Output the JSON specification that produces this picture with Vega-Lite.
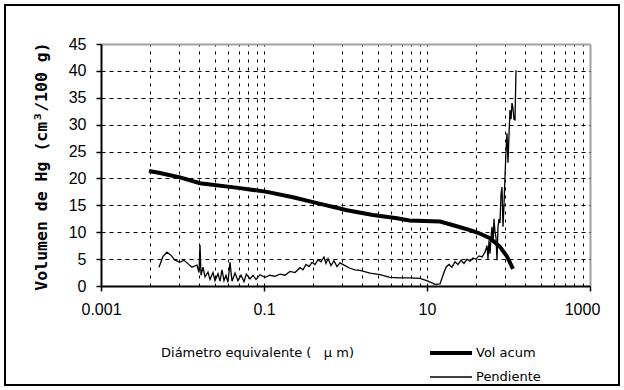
{
  "$schema": "https://vega.github.io/schema/vega-lite/v6.json",
  "width": 614,
  "height": 380,
  "autosize": {"type": "none"},
  "padding": {"left": 5, "top": 5, "right": 5, "bottom": 5},
  "background": "white",
  "config": {
    "view": {"stroke": "black", "strokeWidth": 2},
    "axis": {"labelColor": "black", "titleColor": "black", "tickColor": "black", "domainColor": "black"}
  },
  "data": {
    "values": [
      {"serie": "Vol acum", "d": 0.003881, "v": 21.4},
      {"serie": "Vol acum", "d": 0.005296, "v": 21.0},
      {"serie": "Vol acum", "d": 0.007025, "v": 20.6},
      {"serie": "Vol acum", "d": 0.009317, "v": 20.2},
      {"serie": "Vol acum", "d": 0.0164, "v": 19.1},
      {"serie": "Vol acum", "d": 0.05076, "v": 18.2},
      {"serie": "Vol acum", "d": 0.1088, "v": 17.5},
      {"serie": "Vol acum", "d": 0.2269, "v": 16.5},
      {"serie": "Vol acum", "d": 0.3992, "v": 15.6},
      {"serie": "Vol acum", "d": 1.043, "v": 14.1},
      {"serie": "Vol acum", "d": 2.174, "v": 13.2},
      {"serie": "Vol acum", "d": 4.284, "v": 12.6},
      {"serie": "Vol acum", "d": 6.067, "v": 12.2},
      {"serie": "Vol acum", "d": 14.44, "v": 12.0},
      {"serie": "Vol acum", "d": 22.06, "v": 11.2},
      {"serie": "Vol acum", "d": 33.7, "v": 10.4},
      {"serie": "Vol acum", "d": 42.25, "v": 9.9},
      {"serie": "Vol acum", "d": 59.29, "v": 8.9},
      {"serie": "Vol acum", "d": 78.65, "v": 7.3},
      {"serie": "Vol acum", "d": 95.82, "v": 5.5},
      {"serie": "Vol acum", "d": 113.6, "v": 3.2},
      {"serie": "Pendiente", "d": 0.005149, "v": 3.5},
      {"serie": "Pendiente", "d": 0.005764, "v": 5.5},
      {"serie": "Pendiente", "d": 0.006454, "v": 6.3},
      {"serie": "Pendiente", "d": 0.007226, "v": 5.7},
      {"serie": "Pendiente", "d": 0.008091, "v": 4.8},
      {"serie": "Pendiente", "d": 0.009317, "v": 4.4},
      {"serie": "Pendiente", "d": 0.010433, "v": 4.8},
      {"serie": "Pendiente", "d": 0.011357, "v": 4.3},
      {"serie": "Pendiente", "d": 0.01308, "v": 3.5},
      {"serie": "Pendiente", "d": 0.01506, "v": 3.9},
      {"serie": "Pendiente", "d": 0.01594, "v": 2.5},
      {"serie": "Pendiente", "d": 0.0164, "v": 7.6},
      {"serie": "Pendiente", "d": 0.01687, "v": 2.0},
      {"serie": "Pendiente", "d": 0.01785, "v": 3.5},
      {"serie": "Pendiente", "d": 0.01889, "v": 1.7},
      {"serie": "Pendiente", "d": 0.02055, "v": 2.6},
      {"serie": "Pendiente", "d": 0.02174, "v": 1.2},
      {"serie": "Pendiente", "d": 0.02367, "v": 2.5},
      {"serie": "Pendiente", "d": 0.02504, "v": 1.0},
      {"serie": "Pendiente", "d": 0.02727, "v": 2.3},
      {"serie": "Pendiente", "d": 0.02885, "v": 0.9},
      {"serie": "Pendiente", "d": 0.03053, "v": 3.0},
      {"serie": "Pendiente", "d": 0.0323, "v": 1.0},
      {"serie": "Pendiente", "d": 0.03417, "v": 2.0},
      {"serie": "Pendiente", "d": 0.03616, "v": 0.7},
      {"serie": "Pendiente", "d": 0.03826, "v": 4.4},
      {"serie": "Pendiente", "d": 0.04049, "v": 0.9},
      {"serie": "Pendiente", "d": 0.04407, "v": 2.4},
      {"serie": "Pendiente", "d": 0.04797, "v": 1.0},
      {"serie": "Pendiente", "d": 0.05222, "v": 2.0},
      {"serie": "Pendiente", "d": 0.05684, "v": 0.8},
      {"serie": "Pendiente", "d": 0.06067, "v": 2.2},
      {"serie": "Pendiente", "d": 0.06733, "v": 1.3},
      {"serie": "Pendiente", "d": 0.07328, "v": 2.0},
      {"serie": "Pendiente", "d": 0.07976, "v": 1.2},
      {"serie": "Pendiente", "d": 0.08931, "v": 2.1},
      {"serie": "Pendiente", "d": 0.1029, "v": 1.6},
      {"serie": "Pendiente", "d": 0.1185, "v": 2.0},
      {"serie": "Pendiente", "d": 0.1365, "v": 1.8},
      {"serie": "Pendiente", "d": 0.1571, "v": 2.2},
      {"serie": "Pendiente", "d": 0.181, "v": 2.0},
      {"serie": "Pendiente", "d": 0.2084, "v": 2.7},
      {"serie": "Pendiente", "d": 0.24, "v": 2.5},
      {"serie": "Pendiente", "d": 0.2765, "v": 3.4},
      {"serie": "Pendiente", "d": 0.301, "v": 3.0},
      {"serie": "Pendiente", "d": 0.3276, "v": 4.0},
      {"serie": "Pendiente", "d": 0.3565, "v": 3.6},
      {"serie": "Pendiente", "d": 0.3881, "v": 4.4},
      {"serie": "Pendiente", "d": 0.4225, "v": 4.0},
      {"serie": "Pendiente", "d": 0.4598, "v": 4.9},
      {"serie": "Pendiente", "d": 0.5005, "v": 4.5},
      {"serie": "Pendiente", "d": 0.5448, "v": 5.4},
      {"serie": "Pendiente", "d": 0.5764, "v": 4.2},
      {"serie": "Pendiente", "d": 0.6099, "v": 5.1},
      {"serie": "Pendiente", "d": 0.664, "v": 3.8},
      {"serie": "Pendiente", "d": 0.7226, "v": 4.7},
      {"serie": "Pendiente", "d": 0.7865, "v": 3.6},
      {"serie": "Pendiente", "d": 0.856, "v": 4.3},
      {"serie": "Pendiente", "d": 0.9861, "v": 3.8},
      {"serie": "Pendiente", "d": 1.136, "v": 3.3},
      {"serie": "Pendiente", "d": 1.308, "v": 3.0},
      {"serie": "Pendiente", "d": 1.506, "v": 2.9},
      {"serie": "Pendiente", "d": 1.998, "v": 2.4},
      {"serie": "Pendiente", "d": 2.65, "v": 2.1},
      {"serie": "Pendiente", "d": 3.515, "v": 1.6},
      {"serie": "Pendiente", "d": 4.663, "v": 1.5},
      {"serie": "Pendiente", "d": 6.067, "v": 1.5},
      {"serie": "Pendiente", "d": 8.205, "v": 1.4},
      {"serie": "Pendiente", "d": 10.29, "v": 0.9},
      {"serie": "Pendiente", "d": 12.54, "v": 0.3},
      {"serie": "Pendiente", "d": 14.44, "v": 0.4},
      {"serie": "Pendiente", "d": 15.71, "v": 2.0},
      {"serie": "Pendiente", "d": 17.11, "v": 3.5},
      {"serie": "Pendiente", "d": 18.62, "v": 4.0},
      {"serie": "Pendiente", "d": 20.26, "v": 3.5},
      {"serie": "Pendiente", "d": 22.06, "v": 4.5},
      {"serie": "Pendiente", "d": 24.0, "v": 4.0},
      {"serie": "Pendiente", "d": 26.13, "v": 4.8},
      {"serie": "Pendiente", "d": 28.45, "v": 4.2},
      {"serie": "Pendiente", "d": 30.97, "v": 5.0},
      {"serie": "Pendiente", "d": 33.7, "v": 4.6},
      {"serie": "Pendiente", "d": 36.67, "v": 5.2},
      {"serie": "Pendiente", "d": 39.92, "v": 5.0},
      {"serie": "Pendiente", "d": 43.45, "v": 5.6},
      {"serie": "Pendiente", "d": 47.29, "v": 5.4},
      {"serie": "Pendiente", "d": 51.49, "v": 6.3},
      {"serie": "Pendiente", "d": 54.48, "v": 7.5},
      {"serie": "Pendiente", "d": 56.04, "v": 5.0},
      {"serie": "Pendiente", "d": 57.64, "v": 8.5},
      {"serie": "Pendiente", "d": 59.29, "v": 6.0},
      {"serie": "Pendiente", "d": 60.99, "v": 9.0},
      {"serie": "Pendiente", "d": 62.73, "v": 11.0},
      {"serie": "Pendiente", "d": 64.54, "v": 8.0},
      {"serie": "Pendiente", "d": 66.4, "v": 12.5},
      {"serie": "Pendiente", "d": 68.3, "v": 10.0},
      {"serie": "Pendiente", "d": 70.25, "v": 9.0},
      {"serie": "Pendiente", "d": 72.26, "v": 4.8},
      {"serie": "Pendiente", "d": 74.34, "v": 11.0},
      {"serie": "Pendiente", "d": 76.45, "v": 12.5},
      {"serie": "Pendiente", "d": 78.65, "v": 11.7},
      {"serie": "Pendiente", "d": 80.91, "v": 17.0},
      {"serie": "Pendiente", "d": 83.21, "v": 18.4},
      {"serie": "Pendiente", "d": 85.6, "v": 11.0},
      {"serie": "Pendiente", "d": 88.05, "v": 15.0},
      {"serie": "Pendiente", "d": 90.59, "v": 20.3},
      {"serie": "Pendiente", "d": 93.17, "v": 25.0},
      {"serie": "Pendiente", "d": 95.82, "v": 28.4},
      {"serie": "Pendiente", "d": 98.61, "v": 22.9},
      {"serie": "Pendiente", "d": 101.4, "v": 28.0},
      {"serie": "Pendiente", "d": 104.3, "v": 32.7},
      {"serie": "Pendiente", "d": 107.3, "v": 31.0},
      {"serie": "Pendiente", "d": 110.4, "v": 34.0},
      {"serie": "Pendiente", "d": 113.6, "v": 33.0},
      {"serie": "Pendiente", "d": 116.8, "v": 31.0},
      {"serie": "Pendiente", "d": 120.2, "v": 30.9},
      {"serie": "Pendiente", "d": 123.6, "v": 40.1}
    ]
  },
  "layer": [
    {
      "transform": [{"filter": "datum.serie == 'Pendiente'"}],
      "mark": {"type": "line", "color": "black"},
      "encoding": {
        "x": {
          "field": "d", "type": "quantitative",
          "scale": {"type": "log", "domain": [0.001, 1000], "range": [96, 585], "nice": false},
          "axis": {
            "orient": "top", "offset": -39, "title": null, "labels": false, "ticks": false,
            "values": [0.004, 0.009, 0.016, 0.025, 0.036, 0.049, 0.064, 0.081, 0.1, 0.4, 0.9, 1.6, 2.5, 3.6, 4.9, 6.4, 8.1, 10, 40, 90, 160, 250, 360, 490, 640, 810],
            "grid": true, "gridColor": "black", "gridDash": [3, 5], "gridWidth": 1, "gridOpacity": 1,
            "domainColor": "#a0a0a0", "domainWidth": 2
          }
        },
        "y": {
          "field": "v", "type": "quantitative",
          "scale": {"domain": [0, 45], "range": [281, 39], "nice": false, "zero": false},
          "axis": {
            "orient": "right", "offset": -29, "title": null, "labels": false, "ticks": false, "grid": false,
            "domainColor": "#a0a0a0", "domainWidth": 2
          }
        },
        "strokeWidth": {
          "field": "serie", "type": "nominal",
          "scale": {"type": "ordinal", "domain": ["Vol acum", "Pendiente"], "range": [4, 1.3]},
          "legend": {
            "orient": "none", "legendX": 423, "legendY": 340, "title": null,
            "symbolType": "stroke", "symbolSize": 1764, "symbolStrokeColor": "black",
            "labelFont": "DejaVu Sans", "labelFontSize": 13, "labelColor": "black", "labelOffset": 2,
            "clipHeight": 16, "rowPadding": 8, "padding": 0
          }
        }
      }
    },
    {
      "transform": [{"filter": "datum.serie == 'Vol acum'"}],
      "mark": {"type": "line", "color": "black"},
      "encoding": {
        "x": {
          "field": "d", "type": "quantitative",
          "scale": {"type": "log", "domain": [0.001, 1000], "range": [96, 585], "nice": false},
          "axis": {
            "orient": "bottom", "offset": -99, "values": [0.001, 0.1, 10, 1000], "format": "~g",
            "grid": false, "tickSize": 5, "tickWidth": 1.5, "domainWidth": 2, "labelFlush": false,
            "labelOffset": {"condition": {"test": "datum.value == 1000", "value": -8}, "value": 0},
            "labelFont": "Liberation Sans", "labelFontSize": 16, "labelPadding": 10,
            "title": "Diámetro equivalente (\u00a0\u00a0\u00a0µ m)", "titleFont": "DejaVu Sans", "titleFontSize": 13,
            "titleFontWeight": "normal", "titleX": 252, "titleY": 66, "titleBaseline": "middle", "titleAlign": "center",
            "zindex": 1
          }
        },
        "y": {
          "field": "v", "type": "quantitative",
          "scale": {"domain": [0, 45], "range": [281, 39], "nice": false, "zero": false},
          "axis": {
            "orient": "left", "offset": -96, "values": [0, 5, 10, 15, 20, 25, 30, 35, 40, 45],
            "grid": true, "gridColor": "black", "gridDash": [4, 4], "gridWidth": 1,
            "gridOpacity": {"condition": {"test": "datum.value == 0 || datum.value == 45", "value": 0}, "value": 1},
            "tickSize": 5, "tickWidth": 1.5, "domainWidth": 2,
            "labelFont": "Liberation Sans", "labelFontSize": 16, "labelPadding": 10,
            "title": "Volumen de Hg (cm³/100 g)", "titleFont": "DejaVu Sans Mono", "titleFontSize": 16.5,
            "titleFontWeight": "bold", "titleX": -60, "titleY": 161, "titleBaseline": "middle", "titleAlign": "center", "titleAngle": -90,
            "zindex": 1
          }
        },
        "strokeWidth": {
          "field": "serie", "type": "nominal",
          "scale": {"type": "ordinal", "domain": ["Vol acum", "Pendiente"], "range": [4, 1.3]},
          "legend": {
            "orient": "none", "legendX": 423, "legendY": 340, "title": null,
            "symbolType": "stroke", "symbolSize": 1764, "symbolStrokeColor": "black",
            "labelFont": "DejaVu Sans", "labelFontSize": 13, "labelColor": "black", "labelOffset": 2,
            "clipHeight": 16, "rowPadding": 8, "padding": 0
          }
        }
      }
    }
  ],
  "resolve": {"axis": {"x": "independent", "y": "independent"}}
}
